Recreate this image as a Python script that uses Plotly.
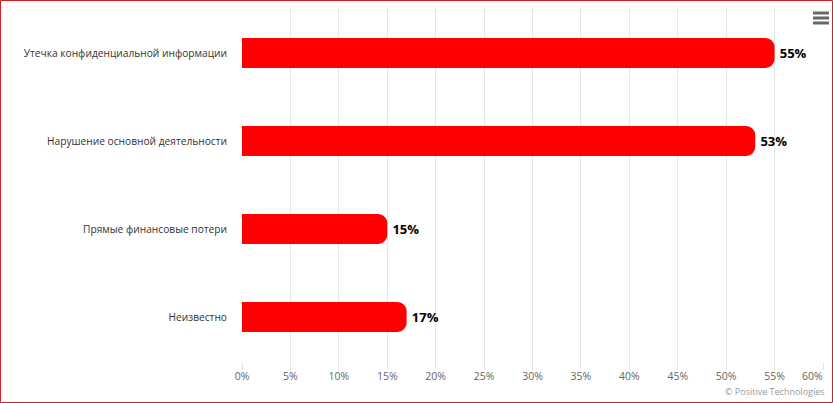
import plotly.graph_objects as go

categories = ["Утечка конфиденциальной информации", "Нарушение основной деятельности",
              "Прямые финансовые потери", "Неизвестно"]
values = [55, 53, 15, 17]
tick_vals = [0, 5, 10, 15, 20, 25, 30, 35, 40, 45, 50, 55, 60]
tick_text = [f"{v}%" for v in tick_vals]
credit = "© Positive Technologies"

W, H = 833, 403
ml, mr, mt, mb = 242, 10, 9, 42
pw, ph = W - ml - mr, H - mt - mb

fig = go.Figure(go.Bar(
    y=categories, x=values, orientation="h",
    marker=dict(color="#ff0000", cornerradius=9, line=dict(width=0)),
    width=0.34,
    text=[f"\u2009{v}%" for v in values], textposition="outside",
    textfont=dict(family="Open Sans", size=13, color="#000000", weight="bold"),
    cliponaxis=False, hoverinfo="skip",
))

def px_x(p):
    return (p - ml) / pw

def px_y(p):
    return 1 - (p - mt) / ph

shapes = [dict(type="rect", xref="paper", yref="paper",
               x0=px_x(0.5), x1=px_x(W - 0.5), y0=px_y(H - 0.5), y1=px_y(0.5),
               line=dict(color="#d41f26", width=1), fillcolor="rgba(0,0,0,0)")]
for yy in (13, 18, 23):
    shapes.append(dict(type="line", xref="paper", yref="paper",
                       x0=px_x(813), x1=px_x(829), y0=px_y(yy), y1=px_y(yy),
                       line=dict(color="#666666", width=3)))

shown_text = tick_text[:-1] + [""]

fig.update_layout(
    width=W, height=H, margin=dict(l=ml, r=mr, t=mt, b=mb),
    paper_bgcolor="white", plot_bgcolor="white",
    font=dict(family="Open Sans", color="#333333", size=10.2),
    showlegend=False,
    xaxis=dict(range=[0, 60], tickvals=tick_vals, ticktext=shown_text,
               showgrid=True, gridcolor="#e6e6e6", gridwidth=1, zeroline=False,
               ticks="outside", ticklen=8, tickcolor="#e6e6e6",
               ticklabelstandoff=-3,
               tickfont=dict(size=10.5, color="#666666"), fixedrange=True),
    yaxis=dict(categoryorder="array", categoryarray=categories[::-1],
               showgrid=False, zeroline=False, ticks="", ticklabelstandoff=14,
               tickfont=dict(size=10.2, color="#333333"), fixedrange=True),
    shapes=shapes,
    annotations=[
        dict(text=credit, xref="paper", yref="paper", x=1, xshift=4,
             y=px_y(391), xanchor="right", yanchor="middle", showarrow=False,
             font=dict(size=9, color="#999999")),
        dict(text=tick_text[-1], xref="x", yref="paper", x=tick_vals[-1], xshift=-11,
             y=px_y(376), xanchor="center", yanchor="middle", showarrow=False,
             font=dict(size=10.5, color="#666666")),
    ],
)

fig.write_html("out.html", config={"displayModeBar": False},
               post_script="document.body.style.margin='0';document.body.style.overflow='hidden';")
